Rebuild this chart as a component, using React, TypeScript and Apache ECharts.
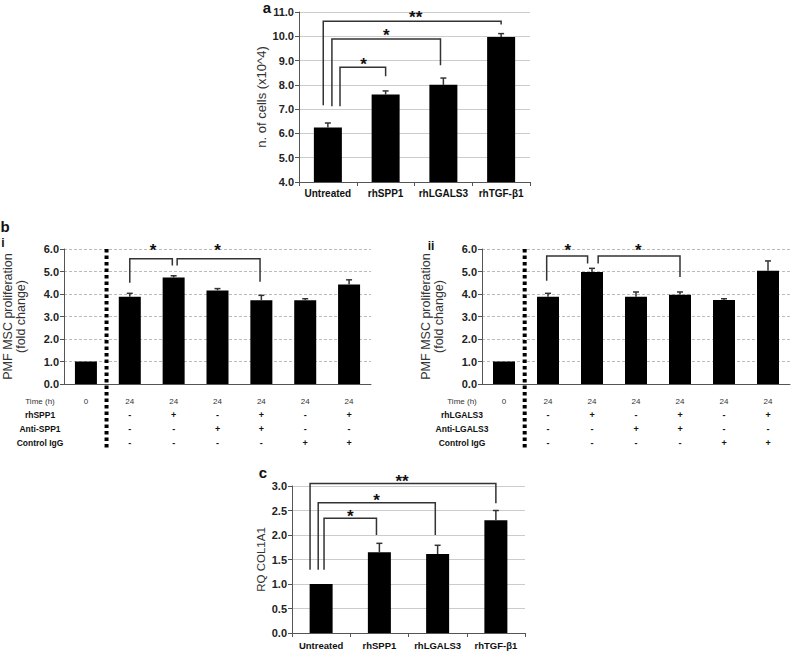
import React, { useEffect, useRef } from "react";
import * as echarts from "echarts";

// ---------- Panel a ----------
const catsA = ["Untreated", "rhSPP1", "rhLGALS3", "rhTGF-β1"];
const valsA = [6.24, 7.6, 8.0, 9.97];
const errA = [0.19, 0.15, 0.28, 0.14];
const bracketsA = [
  [[-0.08, 7.16], [-0.08, 10.62], [3.0, 10.62], [3.0, 10.49]],
  [[0.07, 7.12], [0.07, 9.89], [1.95, 9.89], [1.95, 8.81]],
  [[0.21, 7.12], [0.21, 8.72], [1.0, 8.72], [1.0, 8.35]],
];
const starsA: [number, number, string][] = [
  [1.52, 10.93, "**"],
  [1.01, 10.18, "*"],
  [0.62, 9.01, "*"],
];

// ---------- Panel b (shared table) ----------
const timeRow = ["0", "24", "24", "24", "24", "24", "24"];
const treatRow = ["", "-", "+", "-", "+", "-", "+"];
const antiRow = ["", "-", "-", "+", "+", "-", "-"];
const iggRow = ["", "-", "-", "-", "-", "+", "+"];
const catsB = ["c0", "c1", "c2", "c3", "c4", "c5", "c6"];
const separatorB = [[0.47, 6], [0.47, -2.85]];

// b-i
const rowNamesBi = ["Time (h)", "rhSPP1", "Anti-SPP1", "Control IgG"];
const valsBi = [1.0, 3.88, 4.73, 4.16, 3.72, 3.72, 4.42];
const errBi = [0, 0.15, 0.08, 0.08, 0.22, 0.07, 0.21];
const bracketsBi = [
  [[1.0, 4.5], [1.0, 5.57], [1.97, 5.57], [1.97, 5.27]],
  [[2.08, 5.27], [2.08, 5.57], [3.97, 5.57], [3.97, 4.55]],
];
const starsBi: [number, number, string][] = [
  [1.53, 6.09, "*"],
  [3.0, 6.13, "*"],
];

// b-ii
const rowNamesBii = ["Time (h)", "rhLGALS3", "Anti-LGALS3", "Control IgG"];
const valsBii = [1.0, 3.88, 4.98, 3.88, 3.97, 3.73, 5.03];
const errBii = [0, 0.15, 0.16, 0.21, 0.12, 0.06, 0.44];
const bracketsBii = [
  [[0.97, 4.59], [0.97, 5.69], [1.9, 5.69], [1.9, 5.36]],
  [[2.14, 5.36], [2.14, 5.69], [4.0, 5.69], [4.0, 4.76]],
];
const starsBii: [number, number, string][] = [
  [1.45, 6.09, "*"],
  [3.05, 6.13, "*"],
];

// ---------- Panel c ----------
const catsC = ["Untreated", "rhSPP1", "rhLGALS3", "rhTGF-β1"];
const valsC = [1.0, 1.65, 1.61, 2.3];
const errC = [0, 0.18, 0.18, 0.2];
const bracketsC = [
  [[-0.19, 1.29], [-0.19, 3.05], [3.0, 3.05], [3.0, 2.65]],
  [[-0.05, 1.29], [-0.05, 2.66], [1.96, 2.66], [1.96, 2.0]],
  [[0.05, 1.29], [0.05, 2.34], [0.95, 2.34], [0.95, 2.0]],
];
const starsC: [number, number, string][] = [
  [1.39, 3.18, "**"],
  [0.95, 2.78, "*"],
  [0.5, 2.45, "*"],
];

const FONT = "Liberation Sans, Arial, Helvetica, sans-serif";
const AXIS_COLOR = "#555";

function makeErrSeries(xi: number, yi: number, vals: number[], errs: number[]) {
  return {
    type: "custom",
    xAxisIndex: xi,
    yAxisIndex: yi,
    z: 5,
    encode: { x: 0, y: 1 },
    data: vals.map((v, i) => [i, v, errs[i]]),
    renderItem: (params: any, api: any) => {
      const i = api.value(0);
      const v = api.value(1);
      const e = api.value(2);
      if (!e) return { type: "group", children: [] };
      const base = api.coord([i, v]);
      const top = api.coord([i, v + e]);
      const st = { stroke: "#333", lineWidth: 1.5 };
      return {
        type: "group",
        children: [
          { type: "line", shape: { x1: base[0], y1: base[1], x2: top[0], y2: top[1] }, style: st },
          { type: "line", shape: { x1: top[0] - 3, y1: top[1], x2: top[0] + 3, y2: top[1] }, style: st },
        ],
      };
    },
  };
}

function makeAnnot(
  xi: number,
  yi: number,
  brackets: number[][][],
  stars: [number, number, string][],
  starSize: number,
  separator?: number[][]
) {
  return {
    type: "custom",
    xAxisIndex: xi,
    yAxisIndex: yi,
    z: 6,
    clip: false,
    data: [[0, 0]],
    encode: { x: 0, y: 1 },
    renderItem: (params: any, api: any) => {
      const children: any[] = [];
      brackets.forEach((b) => {
        children.push({
          type: "polyline",
          shape: { points: b.map((p) => api.coord(p)) },
          style: { stroke: "#333", lineWidth: 1.5, fill: "none" },
        });
      });
      stars.forEach((s) => {
        const c = api.coord([s[0], s[1]]);
        children.push({
          type: "text",
          x: c[0],
          y: c[1] + 4,
          style: {
            text: s[2],
            fontFamily: FONT,
            fontSize: starSize,
            fontWeight: "bold",
            fill: "#111",
            textAlign: "center",
            textVerticalAlign: "middle",
          },
        });
      });
      if (separator) {
        children.push({
          type: "polyline",
          shape: { points: separator.map((p) => api.coord(p)) },
          style: { stroke: "#000", lineWidth: 4, lineDash: [3.5, 3], fill: "none" },
        });
      }
      return { type: "group", children };
    },
  };
}

function bCatAxis(gridIndex: number) {
  return {
    type: "category",
    gridIndex,
    data: catsB,
    axisLine: { show: true, onZero: false, lineStyle: { color: AXIS_COLOR, width: 1 } },
    axisTick: { show: false },
    axisLabel: {
      interval: 0,
      margin: 10,
      fontFamily: FONT,
      formatter: (_v: string, idx: number) =>
        idx === 0
          ? `{t|${timeRow[idx]}}`
          : `{t|${timeRow[idx]}}\n{s|${treatRow[idx]}}\n{s|${antiRow[idx]}}\n{s|${iggRow[idx]}}`,
      rich: {
        t: { fontSize: 8, lineHeight: 14, color: "#333", fontFamily: FONT },
        s: { fontSize: 9, lineHeight: 14, color: "#111", fontWeight: "bold", fontFamily: FONT },
      },
    },
  };
}

function hiddenX(gridIndex: number, n: number) {
  return {
    type: "value",
    gridIndex,
    min: -0.5,
    max: n - 0.5,
    show: false,
    axisLine: { show: false, onZero: false },
    splitLine: { show: false },
  };
}

function yAx(
  gridIndex: number,
  min: number,
  max: number,
  interval: number,
  name: string,
  nameGap: number,
  nameSize: number,
  dashed: boolean
) {
  return {
    type: "value",
    gridIndex,
    min,
    max,
    interval,
    name,
    nameLocation: "middle",
    nameGap,
    nameRotate: 90,
    nameTextStyle: { fontFamily: FONT, fontSize: nameSize, color: "#333", lineHeight: 13 },
    axisLine: { show: true, onZero: false, lineStyle: { color: AXIS_COLOR, width: 1 } },
    axisTick: { show: true, length: 4, lineStyle: { color: AXIS_COLOR } },
    axisLabel: {
      fontFamily: FONT,
      fontSize: 11,
      fontWeight: "bold",
      color: "#222",
      margin: 5,
      formatter: (v: number) => v.toFixed(1),
    },
    splitLine: {
      show: true,
      lineStyle: { color: dashed ? "#bbb" : "#ccc", width: 1, type: dashed ? [3, 2] : "solid" },
    },
  };
}

function rowHeaders(cx: number, names: string[]) {
  return names.map((n, i) => ({
    type: "text",
    x: cx,
    y: 401 + i * 14,
    style: {
      text: n,
      fontFamily: FONT,
      fontSize: i === 0 ? 8 : 8.5,
      fontWeight: i === 0 ? "normal" : "bold",
      fill: i === 0 ? "#333" : "#111",
      textAlign: "center",
      textVerticalAlign: "middle",
    },
  }));
}

function letter(x: number, y: number, t: string, size: number) {
  return {
    type: "text",
    x,
    y,
    style: {
      text: t,
      fontFamily: FONT,
      fontSize: size,
      fontWeight: "bold",
      fill: "#111",
      textAlign: "center",
      textVerticalAlign: "middle",
    },
  };
}

export default function App() {
  const ref = useRef<HTMLDivElement>(null);
  useEffect(() => {
    document.body.style.margin = "0";
    if (!ref.current) return;
    const chart = echarts.init(ref.current, undefined, { renderer: "svg" });
    const catLabel = (size: number, margin: number) => ({
      interval: 0,
      fontFamily: FONT,
      fontSize: size,
      fontWeight: "bold",
      color: "#111",
      margin,
    });
    chart.setOption({
      animation: false,
      backgroundColor: "#fff",
      grid: [
        { left: 299, top: 12, width: 231, height: 170 },
        { left: 57, top: 249, width: 314, height: 135 },
        { left: 482, top: 249, width: 308, height: 135 },
        { left: 292, top: 486, width: 233, height: 147 },
      ],
      xAxis: [
        {
          type: "category",
          gridIndex: 0,
          data: catsA,
          axisLine: { onZero: false, lineStyle: { color: AXIS_COLOR } },
          axisTick: { show: true, length: 4, lineStyle: { color: AXIS_COLOR } },
          axisLabel: catLabel(10, 6),
        },
        hiddenX(0, catsA.length),
        bCatAxis(1),
        hiddenX(1, catsB.length),
        bCatAxis(2),
        hiddenX(2, catsB.length),
        {
          type: "category",
          gridIndex: 3,
          data: catsC,
          axisLine: { onZero: false, lineStyle: { color: AXIS_COLOR } },
          axisTick: { show: true, length: 4, lineStyle: { color: AXIS_COLOR } },
          axisLabel: catLabel(9.5, 7),
        },
        hiddenX(3, catsC.length),
      ],
      yAxis: [
        yAx(0, 4, 11, 1, "n. of cells (x10^4)", 31, 13, false),
        yAx(1, 0, 6, 1, "PMF MSC proliferation\n(fold change)", 37, 12.5, true),
        yAx(2, 0, 6, 1, "PMF MSC proliferation\n(fold change)", 37, 12.5, true),
        yAx(3, 0, 3, 0.5, "RQ COL1A1", 24, 11.5, false),
      ],
      series: [
        { type: "bar", xAxisIndex: 0, yAxisIndex: 0, data: valsA, barWidth: 28, itemStyle: { color: "#000" } },
        { type: "bar", xAxisIndex: 2, yAxisIndex: 1, data: valsBi, barWidth: 22, itemStyle: { color: "#000" } },
        { type: "bar", xAxisIndex: 4, yAxisIndex: 2, data: valsBii, barWidth: 22, itemStyle: { color: "#000" } },
        { type: "bar", xAxisIndex: 6, yAxisIndex: 3, data: valsC, barWidth: 23, itemStyle: { color: "#000" } },
        makeErrSeries(0, 0, valsA, errA),
        makeErrSeries(2, 1, valsBi, errBi),
        makeErrSeries(4, 2, valsBii, errBii),
        makeErrSeries(6, 3, valsC, errC),
        makeAnnot(1, 0, bracketsA, starsA, 17),
        makeAnnot(3, 1, bracketsBi, starsBi, 17, separatorB),
        makeAnnot(5, 2, bracketsBii, starsBii, 17, separatorB),
        makeAnnot(7, 3, bracketsC, starsC, 17),
      ],
      graphic: [
        letter(267, 7, "a", 15),
        letter(5, 226, "b", 15),
        letter(3, 243, "i", 12),
        letter(431, 246, "ii", 12),
        letter(263, 472, "c", 15),
        ...rowHeaders(40, rowNamesBi),
        ...rowHeaders(462, rowNamesBii),
      ],
    });
    return () => chart.dispose();
  }, []);
  return <div ref={ref} style={{ width: 794, height: 651 }} />;
}
